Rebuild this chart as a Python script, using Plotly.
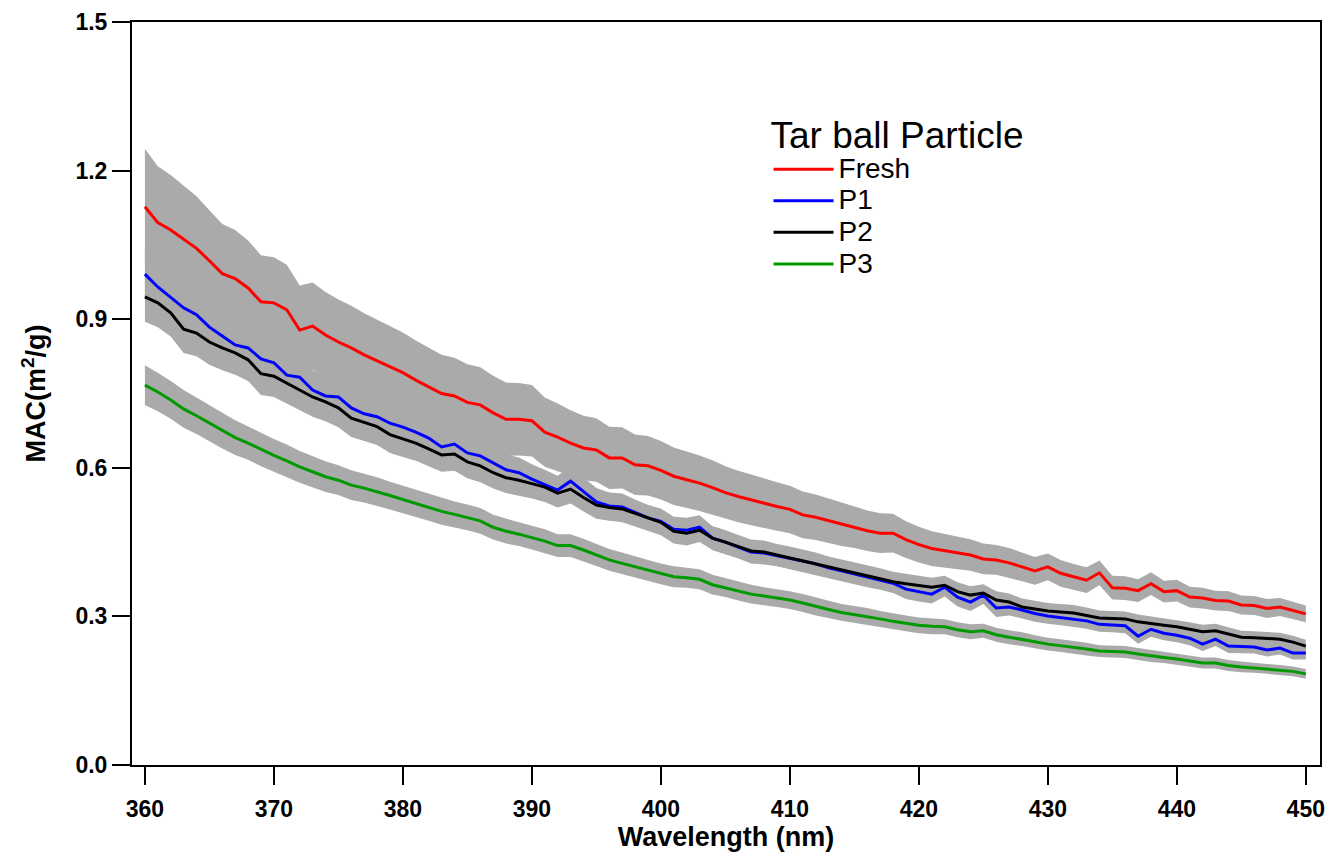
import plotly.graph_objects as go

wavelength = list(range(360, 451))

fresh = [1.127, 1.095, 1.080, 1.062, 1.043, 1.018, 0.992, 0.982, 0.963, 0.935,
         0.933, 0.919, 0.878, 0.886, 0.868, 0.854, 0.842, 0.828, 0.816, 0.804,
         0.792, 0.777, 0.763, 0.750, 0.745, 0.732, 0.727, 0.711, 0.698, 0.698,
         0.695, 0.672, 0.662, 0.650, 0.640, 0.636, 0.620, 0.620, 0.606, 0.604,
         0.595, 0.583, 0.576, 0.569, 0.560, 0.550, 0.542, 0.535, 0.528, 0.522,
         0.516, 0.505, 0.500, 0.493, 0.486, 0.480, 0.473, 0.468, 0.468, 0.455,
         0.445, 0.437, 0.433, 0.428, 0.424, 0.416, 0.414, 0.408, 0.400, 0.392,
         0.400, 0.387, 0.380, 0.373, 0.388, 0.358, 0.357, 0.352, 0.366, 0.350,
         0.352, 0.339, 0.337, 0.332, 0.331, 0.323, 0.322, 0.316, 0.319, 0.312,
         0.305]

p1 = [0.991, 0.965, 0.944, 0.923, 0.909, 0.884, 0.866, 0.848, 0.842, 0.820,
      0.812, 0.787, 0.783, 0.757, 0.745, 0.743, 0.721, 0.709, 0.703, 0.690,
      0.682, 0.672, 0.660, 0.642, 0.648, 0.630, 0.624, 0.610, 0.596, 0.590,
      0.577, 0.566, 0.555, 0.573, 0.552, 0.531, 0.523, 0.521, 0.510, 0.499,
      0.492, 0.476, 0.474, 0.480, 0.458, 0.450, 0.440, 0.430, 0.428, 0.423,
      0.418, 0.412, 0.406, 0.398, 0.392, 0.386, 0.380, 0.374, 0.367, 0.355,
      0.350, 0.345, 0.359, 0.339, 0.329, 0.343, 0.317, 0.319, 0.313, 0.306,
      0.301, 0.298, 0.295, 0.291, 0.284, 0.283, 0.281, 0.260, 0.274, 0.266,
      0.262, 0.256, 0.244, 0.254, 0.240, 0.239, 0.238, 0.232, 0.236, 0.226,
      0.226]

p2 = [0.945, 0.933, 0.913, 0.880, 0.872, 0.854, 0.842, 0.832, 0.818, 0.790,
      0.785, 0.771, 0.757, 0.743, 0.733, 0.721, 0.700, 0.692, 0.683, 0.667,
      0.658, 0.650, 0.638, 0.626, 0.628, 0.612, 0.604, 0.590, 0.580, 0.575,
      0.568, 0.561, 0.549, 0.557, 0.540, 0.525, 0.520, 0.517, 0.508, 0.499,
      0.490, 0.472, 0.468, 0.474, 0.458, 0.450, 0.441, 0.432, 0.430, 0.424,
      0.419, 0.413, 0.407, 0.400, 0.394, 0.388, 0.383, 0.377, 0.370, 0.366,
      0.362, 0.359, 0.363, 0.350, 0.343, 0.347, 0.333, 0.329, 0.319, 0.315,
      0.311, 0.309, 0.307, 0.302, 0.297, 0.296, 0.295, 0.289, 0.285, 0.282,
      0.279, 0.274, 0.269, 0.271, 0.264, 0.258, 0.257, 0.256, 0.254, 0.248,
      0.240]

p3 = [0.767, 0.753, 0.737, 0.719, 0.705, 0.690, 0.675, 0.661, 0.650, 0.637,
      0.625, 0.614, 0.602, 0.592, 0.582, 0.575, 0.565, 0.559, 0.552, 0.544,
      0.536, 0.528, 0.520, 0.512, 0.506, 0.500, 0.493, 0.480, 0.472, 0.466,
      0.459, 0.452, 0.443, 0.443, 0.434, 0.424, 0.414, 0.407, 0.400, 0.393,
      0.386, 0.380, 0.378, 0.375, 0.364, 0.358, 0.351, 0.345, 0.341, 0.337,
      0.333, 0.327, 0.320, 0.314, 0.308, 0.304, 0.300, 0.295, 0.290, 0.286,
      0.282, 0.280, 0.279, 0.273, 0.269, 0.271, 0.263, 0.258, 0.254, 0.249,
      0.244, 0.241, 0.238, 0.234, 0.230, 0.229, 0.228, 0.224, 0.220, 0.217,
      0.214, 0.210, 0.206, 0.206, 0.201, 0.198, 0.196, 0.194, 0.192, 0.189,
      0.184]

fresh_err = [0.117, 0.114, 0.111, 0.108, 0.105, 0.102, 0.100, 0.098, 0.096, 0.094,
             0.092, 0.091, 0.090, 0.088, 0.087, 0.086, 0.085, 0.084, 0.083, 0.082,
             0.081, 0.080, 0.079, 0.078, 0.077, 0.077, 0.076, 0.075, 0.074, 0.073,
             0.072, 0.070, 0.068, 0.066, 0.065, 0.064, 0.063, 0.062, 0.061, 0.060,
             0.059, 0.058, 0.057, 0.056, 0.055, 0.053, 0.052, 0.051, 0.050, 0.049,
             0.048, 0.047, 0.046, 0.045, 0.044, 0.042, 0.041, 0.040, 0.039, 0.037,
             0.036, 0.035, 0.034, 0.033, 0.032, 0.031, 0.030, 0.030, 0.029, 0.028,
             0.027, 0.027, 0.026, 0.026, 0.025, 0.024, 0.024, 0.023, 0.023, 0.022,
             0.022, 0.021, 0.021, 0.020, 0.020, 0.019, 0.019, 0.019, 0.018, 0.018,
             0.017]

p1_err = [0.050, 0.049, 0.048, 0.048, 0.047, 0.046, 0.045, 0.044, 0.043, 0.043,
          0.042, 0.041, 0.041, 0.040, 0.039, 0.039, 0.038, 0.038, 0.037, 0.037,
          0.036, 0.036, 0.035, 0.034, 0.034, 0.033, 0.033, 0.032, 0.031, 0.031,
          0.030, 0.030, 0.029, 0.029, 0.028, 0.028, 0.027, 0.027, 0.026, 0.026,
          0.026, 0.025, 0.025, 0.024, 0.024, 0.024, 0.023, 0.023, 0.023, 0.022,
          0.022, 0.022, 0.022, 0.021, 0.021, 0.021, 0.021, 0.020, 0.020, 0.020,
          0.020, 0.019, 0.019, 0.019, 0.018, 0.018, 0.018, 0.017, 0.017, 0.017,
          0.016, 0.016, 0.016, 0.016, 0.015, 0.015, 0.015, 0.015, 0.015, 0.014,
          0.014, 0.014, 0.014, 0.014, 0.014, 0.013, 0.013, 0.013, 0.013, 0.013,
          0.013]

p2_err = [0.050, 0.049, 0.048, 0.048, 0.047, 0.046, 0.045, 0.044, 0.043, 0.043,
          0.042, 0.041, 0.041, 0.040, 0.039, 0.039, 0.038, 0.038, 0.037, 0.037,
          0.036, 0.036, 0.035, 0.034, 0.034, 0.033, 0.033, 0.032, 0.031, 0.031,
          0.030, 0.030, 0.029, 0.029, 0.028, 0.028, 0.027, 0.027, 0.026, 0.026,
          0.026, 0.025, 0.025, 0.024, 0.024, 0.024, 0.023, 0.023, 0.023, 0.022,
          0.022, 0.022, 0.022, 0.021, 0.021, 0.021, 0.021, 0.020, 0.020, 0.020,
          0.020, 0.019, 0.019, 0.019, 0.018, 0.018, 0.018, 0.017, 0.017, 0.017,
          0.016, 0.016, 0.016, 0.016, 0.015, 0.015, 0.015, 0.015, 0.015, 0.014,
          0.014, 0.014, 0.014, 0.014, 0.014, 0.013, 0.013, 0.013, 0.013, 0.013,
          0.013]

p3_err = [0.040, 0.039, 0.038, 0.038, 0.037, 0.036, 0.036, 0.035, 0.034, 0.034,
          0.033, 0.033, 0.032, 0.032, 0.031, 0.030, 0.030, 0.029, 0.029, 0.028,
          0.028, 0.028, 0.027, 0.027, 0.026, 0.026, 0.026, 0.025, 0.025, 0.024,
          0.024, 0.024, 0.023, 0.023, 0.023, 0.022, 0.022, 0.022, 0.021, 0.021,
          0.021, 0.021, 0.020, 0.020, 0.020, 0.019, 0.019, 0.019, 0.018, 0.018,
          0.018, 0.018, 0.018, 0.017, 0.017, 0.017, 0.017, 0.016, 0.016, 0.016,
          0.016, 0.016, 0.015, 0.015, 0.015, 0.014, 0.014, 0.014, 0.014, 0.013,
          0.013, 0.013, 0.013, 0.013, 0.012, 0.012, 0.012, 0.012, 0.012, 0.011,
          0.011, 0.011, 0.011, 0.011, 0.011, 0.011, 0.010, 0.010, 0.010, 0.010,
          0.010]

series_names = ["Fresh", "P1", "P2", "P3"]
series_values = [fresh, p1, p2, p3]
series_errors = [fresh_err, p1_err, p2_err, p3_err]
series_colors = ["#FF0000", "#0000FF", "#000000", "#009900"]

x_ticks = [360, 370, 380, 390, 400, 410, 420, 430, 440, 450]
y_ticks = [0.0, 0.3, 0.6, 0.9, 1.2, 1.5]

BAND = "#AAAAAA"
FONT = "Arial, Liberation Sans, sans-serif"

fig = go.Figure()

# shaded uncertainty bands
for vals, errs in zip(series_values, series_errors):
    upper = [v + e for v, e in zip(vals, errs)]
    lower = [v - e for v, e in zip(vals, errs)]
    fig.add_trace(go.Scatter(
        x=wavelength + wavelength[::-1],
        y=upper + lower[::-1],
        fill="toself", fillcolor=BAND,
        line=dict(width=0, color=BAND),
        mode="lines", hoverinfo="skip", showlegend=False))

# mean lines
for name, vals, col in zip(series_names, series_values, series_colors):
    fig.add_trace(go.Scatter(
        x=wavelength, y=vals, mode="lines",
        name='<span style="font-size:28px">' + name + '</span>',
        line=dict(color=col, width=3)))

fig.update_layout(
    width=1330, height=858,
    margin=dict(l=132, r=10, t=22, b=93),
    plot_bgcolor="white", paper_bgcolor="white",
    font=dict(family=FONT, color="black"),
    legend=dict(
        title=dict(text="Tar ball Particle", font=dict(size=37, family=FONT)),
        font=dict(size=22, family=FONT),
        x=0.5358, y=0.8947, xanchor="left", yanchor="top",
        bgcolor="rgba(0,0,0,0)", borderwidth=0,
        tracegroupgap=0, itemwidth=60),
    xaxis=dict(
        range=[359, 451.1], tickvals=x_ticks, automargin=False,
        ticks="outside", ticklen=18, tickwidth=2, tickcolor="black",
        ticklabelstandoff=4,
        showline=True, linecolor="black", linewidth=2, mirror=True,
        showgrid=False, zeroline=False,
        tickfont=dict(size=23, family=FONT, weight="bold"),
        title=dict(text="<b>Wavelength (nm)</b>", font=dict(size=27, family=FONT), standoff=0)),
    yaxis=dict(
        range=[0, 1.5], tickvals=y_ticks, tickformat=".1f", automargin=False,
        ticks="outside", ticklen=18, tickwidth=2, tickcolor="black",
        showline=True, linecolor="black", linewidth=2, mirror=True,
        showgrid=False, zeroline=False,
        tickfont=dict(size=23, family=FONT, weight="bold"),
        title=dict(text="<b>MAC(m<sup>2</sup>/g)</b>", font=dict(size=27, family=FONT), standoff=22)),
)

fig.write_html("out.html")
